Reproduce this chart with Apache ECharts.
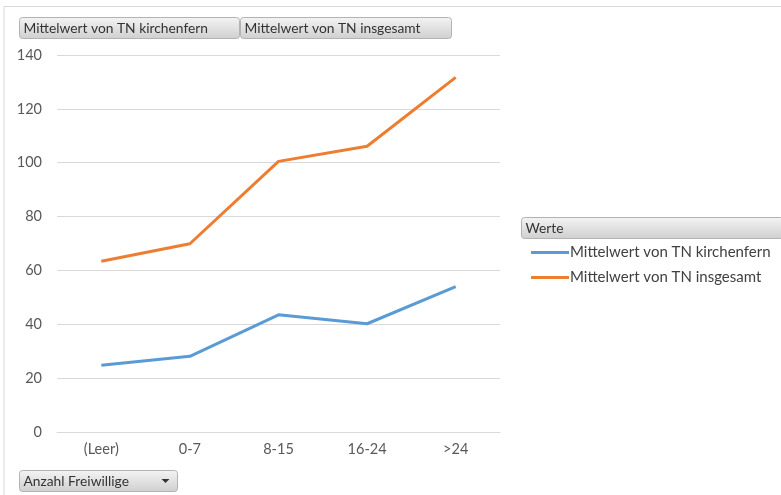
<!DOCTYPE html>
<html>
<head>
<meta charset="utf-8">
<script src="https://cdn.jsdelivr.net/npm/echarts@6/dist/echarts.min.js"></script>
<style>
html,body{margin:0;padding:0;background:#fff;}
#chart{width:781px;height:495px;}
</style>
</head>
<body>
<div id="chart"></div>
<script>
const categories = ['(Leer)', '0-7', '8-15', '16-24', '>24'];
const seriesNames = ['Mittelwert von TN kirchenfern', 'Mittelwert von TN insgesamt'];
const kirchenfern = [24.8, 28.1, 43.5, 40.2, 54.0];
const insgesamt = [63.4, 69.9, 100.5, 106.1, 131.7];
const yTicks = { min: 0, max: 140, interval: 20 };

const FONT = 'Lato, "Open Sans", sans-serif';
const chart = echarts.init(document.getElementById('chart'), null, { renderer: 'canvas' });

function button(x, y, w, h, label, withArrow) {
  const children = [
    {
      type: 'rect',
      shape: { x: 0, y: 0, width: w, height: h, r: 3 },
      style: {
        fill: new echarts.graphic.LinearGradient(0, 0, 0, 1, [
          { offset: 0, color: '#f4f4f4' },
          { offset: 1, color: '#cfcfcf' }
        ]),
        stroke: '#b3b3b3', lineWidth: 1
      }
    },
    {
      type: 'text',
      x: 4, y: h / 2 + 0.5,
      style: { text: label, font: '13.8px ' + FONT, fill: '#333', verticalAlign: 'middle', align: 'left' }
    }
  ];
  if (withArrow) {
    children.push({
      type: 'polygon',
      shape: { points: [[w - 16, h / 2 - 2], [w - 8, h / 2 - 2], [w - 12, h / 2 + 2]] },
      style: { fill: '#333' }
    });
  }
  return { type: 'group', x: x, y: y, children: children };
}

const option = {
  backgroundColor: '#fff',
  animation: false,
  grid: { left: 57, right: 281, top: 55, bottom: 63, containLabel: false },
  xAxis: {
    type: 'category',
    data: categories,
    boundaryGap: true,
    axisLine: { show: true, lineStyle: { color: '#d9d9d9', width: 1 } },
    axisTick: { show: false },
    axisLabel: { color: '#595959', fontSize: 14.5, fontFamily: FONT, margin: 10 }
  },
  yAxis: {
    type: 'value',
    min: yTicks.min, max: yTicks.max, interval: yTicks.interval,
    axisLine: { show: false },
    axisTick: { show: false },
    splitLine: { lineStyle: { color: '#d9d9d9', width: 1 } },
    axisLabel: { color: '#595959', fontSize: 14.5, fontFamily: FONT, margin: 15 }
  },
  legend: {
    orient: 'vertical',
    left: 526, top: 240,
    icon: 'rect',
    itemWidth: 38, itemHeight: 3, itemGap: 10,
    textStyle: { color: '#404040', fontSize: 15, lineHeight: 14, fontFamily: FONT, padding: [0, 0, 0, -4] },
    data: seriesNames
  },
  series: [
    {
      name: seriesNames[0], type: 'line', data: kirchenfern,
      symbol: 'none', color: '#5B9BD5',
      lineStyle: { width: 3, color: '#5B9BD5' }
    },
    {
      name: seriesNames[1], type: 'line', data: insgesamt,
      symbol: 'none', color: '#ED7D31',
      lineStyle: { width: 3, color: '#ED7D31' }
    }
  ],
  graphic: [
    { type: 'polyline', shape: { points: [[4, 495], [4, 6.5], [781, 6.5]] }, style: { stroke: '#d9d9d9', lineWidth: 1, fill: null } },
    button(19.5, 17.5, 220, 21, seriesNames[0], false),
    button(240.5, 17.5, 211, 21, seriesNames[1], false),
    button(521.5, 217.5, 262, 21, 'Werte', false),
    button(19.5, 470.5, 158, 21, 'Anzahl Freiwillige', true)
  ]
};
chart.setOption(option);
</script>
</body>
</html>
